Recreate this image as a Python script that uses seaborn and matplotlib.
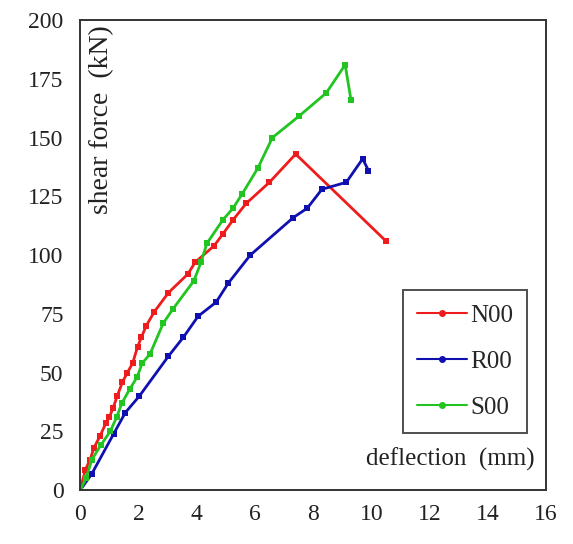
### Curvas carga x deslocamento (N00, R00, S00)
import pandas as pd
import matplotlib.pyplot as plt
import seaborn as sns
from matplotlib.lines import Line2D

### Dados
n00_x = [0, 0.17, 0.34, 0.47, 0.68, 0.88, 1.0, 1.13, 1.27, 1.45, 1.62, 1.8, 1.97,
         2.1, 2.27, 2.55, 3.03, 3.7, 3.95, 4.6, 4.9, 5.25, 5.7, 6.5, 7.4, 10.5]
n00_y = [0, 8.5, 13, 18, 23, 28.5, 31, 35, 40, 46, 50, 54, 61,
         65, 70, 76, 84, 92, 97, 104, 109, 115, 122, 131, 143, 106]

r00_x = [0, 0.4, 1.15, 1.55, 2.03, 3.03, 3.54, 4.05, 4.67, 5.08, 5.84,
         7.32, 7.8, 8.3, 9.14, 9.7, 9.9]
r00_y = [0, 7, 24, 33, 40, 57, 65, 74, 80, 88, 100,
         116, 120, 128, 131, 141, 136]

s00_x = [0, 0.2, 0.4, 0.7, 1.03, 1.25, 1.43, 1.7, 1.95, 2.13, 2.4, 2.85, 3.18,
         3.9, 4.15, 4.35, 4.9, 5.25, 5.56, 6.1, 6.6, 7.5, 8.45, 9.1, 9.3]
s00_y = [0, 5, 13, 19, 25, 31, 37, 43, 48, 54, 58, 71, 77,
         89, 97, 105, 115, 120, 126, 137, 150, 159, 169, 181, 166]

nomes = ["N00", "R00", "S00"]
cores = {"N00": "#ee1c1c", "R00": "#1010b0", "S00": "#22c422"}

series = {"N00": (n00_x, n00_y), "R00": (r00_x, r00_y), "S00": (s00_x, s00_y)}
df = pd.concat([pd.DataFrame({"deflection": x, "shear": y, "viga": nome})
                for nome, (x, y) in series.items()], ignore_index = True)

### Figura
sns.set_style("white")
plt.rcParams["font.family"] = ["Liberation Serif", "DejaVu Serif"]
fig = plt.figure(figsize = (5.73, 5.44), dpi = 100)
ax = fig.add_axes([0.14, 0.099, 0.813, 0.864])

for nome in nomes:
    sns.lineplot(data = df[df["viga"] == nome], x = "deflection", y = "shear", sort = False,
                 color = cores[nome], marker = "s", markersize = 5, markeredgewidth = 0,
                 linewidth = 2, ax = ax, legend = False)

ax.set_xlim(0, 16)
ax.set_ylim(0, 200)
ax.set_xticks(range(0, 17, 2))
ax.set_yticks(range(0, 201, 25))
ax.set_xlabel("")
ax.set_ylabel("")
ax.tick_params(axis = "x", direction = "in", length = 7, width = 1.2, labelsize = 17, pad = 10, colors = "#333333", labelcolor = "#222222")
ax.tick_params(axis = "y", direction = "out", length = 7, width = 1.2, labelsize = 17, pad = 5, colors = "#333333", labelcolor = "#222222")
for sp in ax.spines.values():
    sp.set_visible(True)
    sp.set_color("#333333")
    sp.set_linewidth(1.4)

ax.text(0.045, 0.99, "shear force  (kN)", transform = ax.transAxes, rotation = 90,
        ha = "center", va = "top", fontsize = 20, color = "#222222")
ax.text(0.975, 0.04, "deflection  (mm)", transform = ax.transAxes,
        ha = "right", va = "bottom", fontsize = 18, color = "#222222")

handles = [Line2D([], [], color = cores[n], marker = "o", markersize = 4, linewidth = 1.5) for n in nomes]
leg = ax.legend(handles, nomes, loc = "lower right", bbox_to_anchor = (0.96, 0.122), fontsize = 18,
                frameon = True, fancybox = False, handlelength = 2.0, handletextpad = 0.15,
                labelspacing = 0.95, borderpad = 0.55, borderaxespad = 0)
leg.get_frame().set_edgecolor("#222222")
leg.get_frame().set_linewidth(1.4)

plt.savefig("out.png", dpi = 100)
